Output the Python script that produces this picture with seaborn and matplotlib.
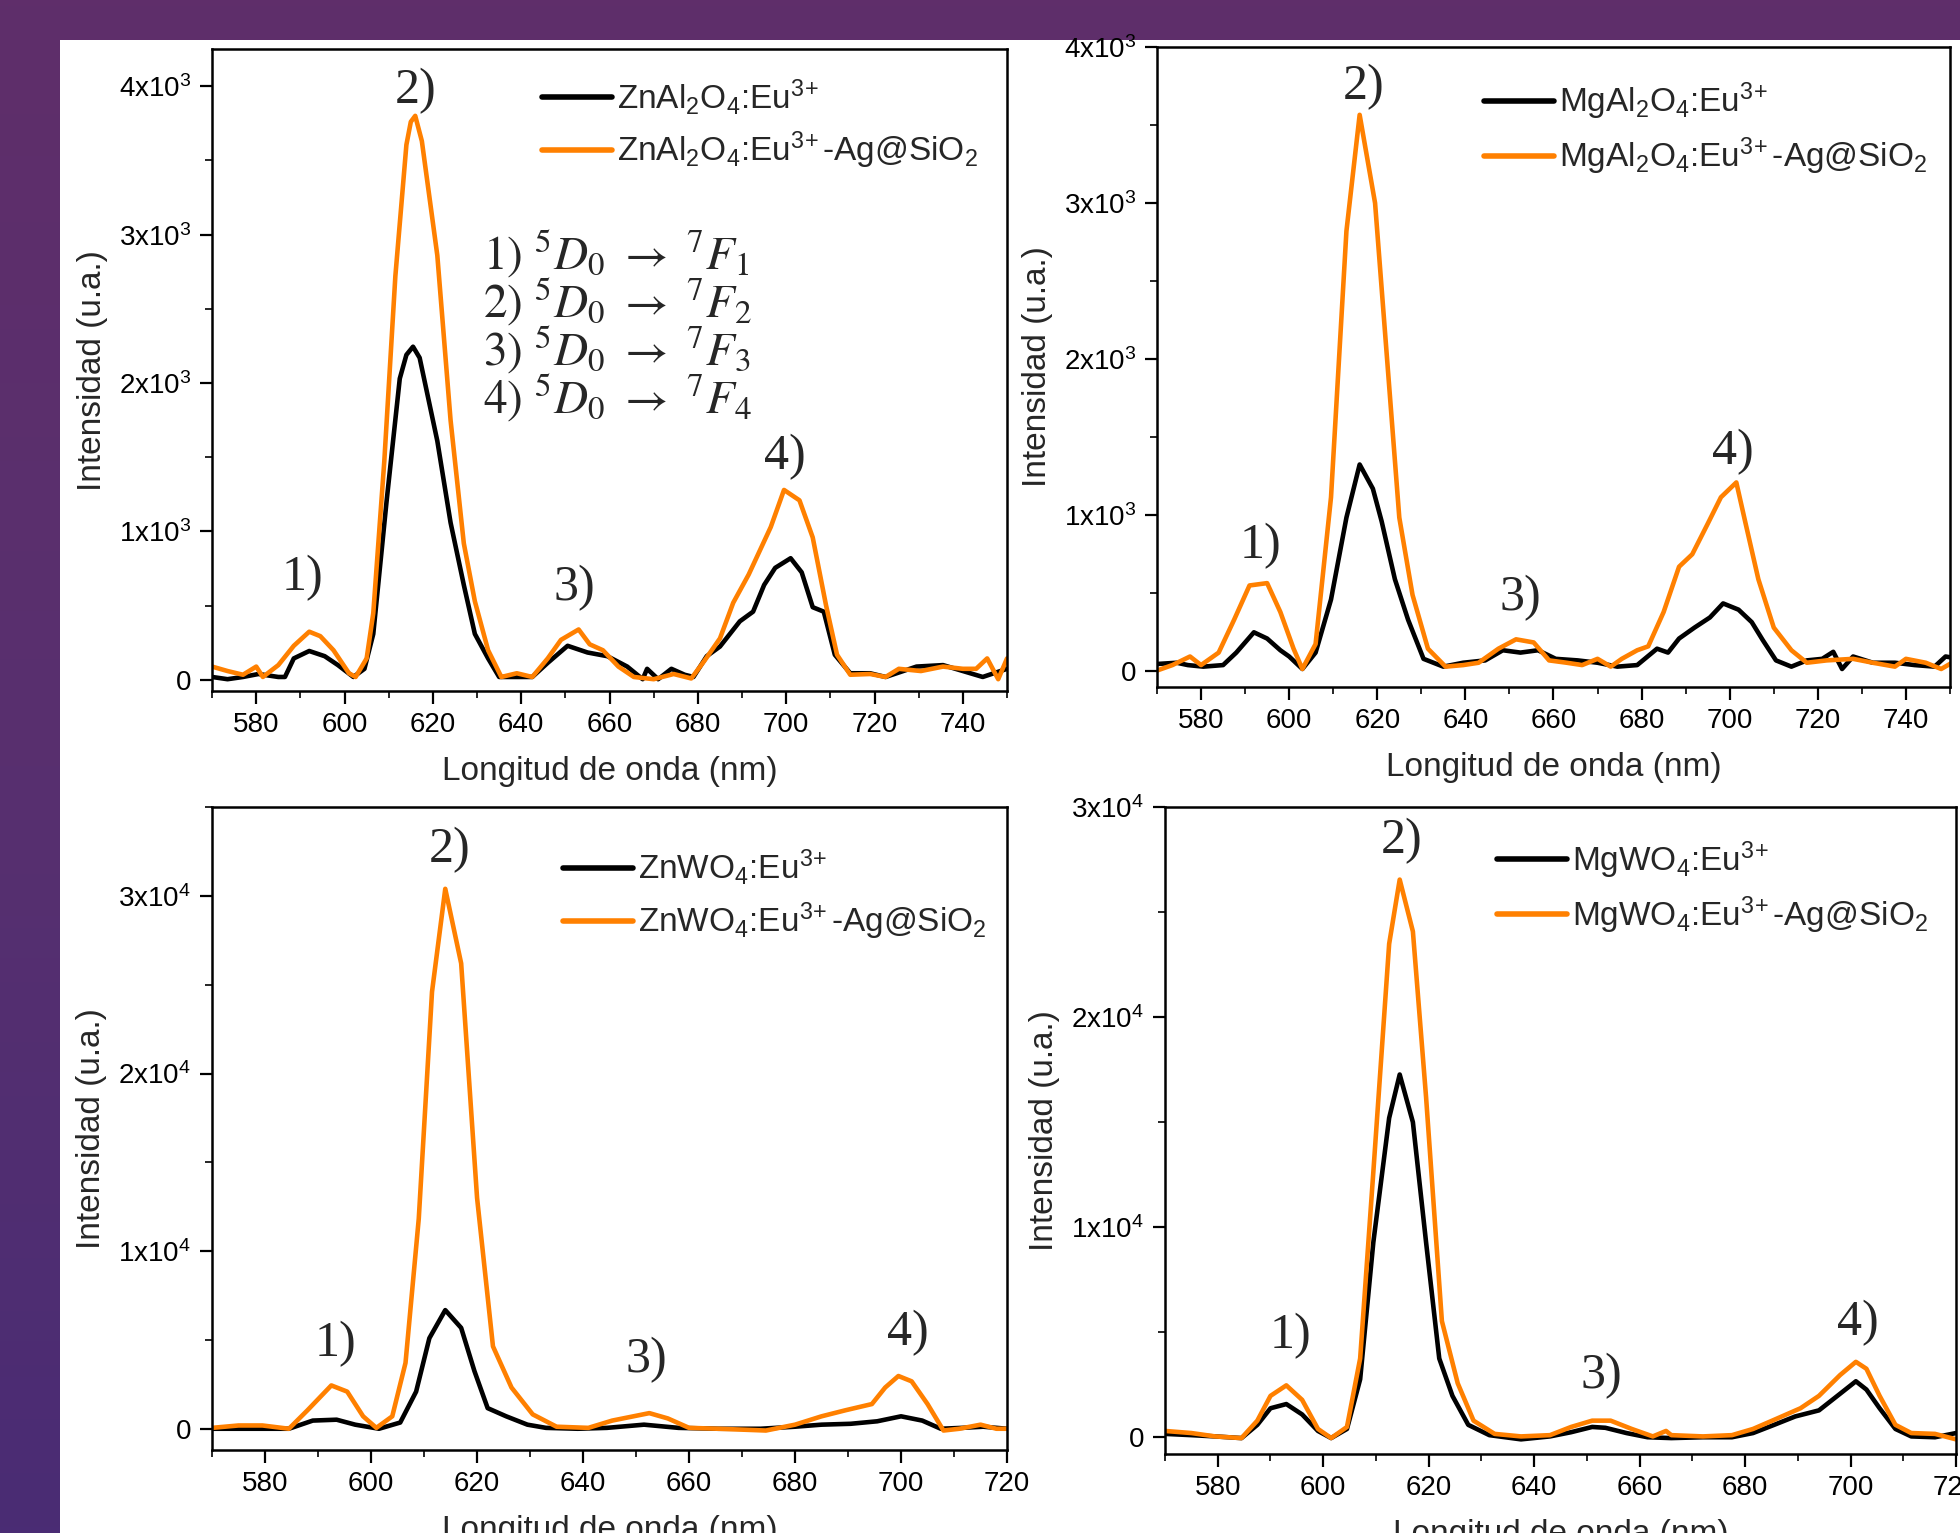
import matplotlib
matplotlib.use("Agg")
import matplotlib.pyplot as plt
import matplotlib.ticker as mticker
from matplotlib.colors import LinearSegmentedColormap
from matplotlib.patches import Rectangle
import numpy as np
import seaborn as sns

# ---- data (wavelength nm, intensity u.a.) ----
znal_wl = [570, 573.5, 577, 580.5, 585, 586.5, 588.5, 592, 595.5, 598.5, 602, 604.5, 606.5, 609.5,
           612.5, 614, 615.5, 617, 618, 621, 624, 627, 629.5, 632.5, 635, 639, 642.5, 646, 650.5,
           655, 659.5, 664, 667.5, 668.5, 671, 674, 677, 679, 682, 685, 689.5, 692.5, 695, 697.5,
           701, 703.5, 706, 708.5, 711, 714.5, 719, 722.5, 729.5, 735.5, 740, 744.5, 750]
znal_eu = [20, 5, 20, 40, 20, 20, 145, 195, 160, 100, 20, 75, 310, 1200,
           2030, 2190, 2245, 2170, 2030, 1610, 1060, 640, 310, 145, 20, 20, 20, 115, 230,
           185, 160, 90, 5, 75, 5, 75, 35, 20, 160, 225, 395, 460, 640, 755,
           820, 725, 490, 460, 170, 45, 45, 20, 90, 100, 60, 20, 75]
znal_ag_wl = [570, 573.5, 577, 580, 581.5, 585, 588.5, 592, 594.5, 597.5, 601, 602.5, 605, 606.5,
              609, 611.5, 614, 615, 616, 617.5, 621, 624, 627, 629.5, 632.5, 635.5, 639, 642.5,
              646, 649, 653, 655.5, 658.5, 662, 665.5, 670, 674.5, 678.5, 681.5, 685, 688,
              691.5, 696.5, 699.5, 703, 706, 709, 711.5, 714.5, 719, 722.5, 725.5, 730.5,
              735.5, 740, 743, 745.5, 748, 750]
znal_eu_ag = [90, 60, 35, 90, 20, 100, 230, 325, 295, 200, 45, 20, 145, 450,
              1475, 2720, 3605, 3760, 3800, 3630, 2860, 1750, 920, 530, 200, 20, 45, 20,
              145, 270, 340, 240, 200, 90, 20, 5, 40, 10, 130, 280, 520,
              710, 1030, 1280, 1210, 960, 505, 170, 35, 40, 20, 75, 60,
              90, 75, 75, 145, 5, 145]

mgal_wl = [570, 574.5, 577, 580.5, 585, 588, 592, 595, 598, 600, 603, 606, 609.5, 613, 616,
           619, 621, 624, 627, 630.5, 635, 639.5, 644.5, 648.5, 652.5, 656.5, 660.5, 665.5,
           670, 674.5, 679, 683.5, 686, 688.5, 692, 695.5, 698.5, 702, 705, 707.5, 710.5,
           714, 717.5, 721, 723.5, 725.5, 728, 732.5, 737.5, 742, 746.5, 749, 752]
mgal_eu = [47, 55, 40, 30, 40, 120, 250, 210, 135, 95, 15, 120, 460, 985, 1325,
           1170, 960, 590, 330, 80, 30, 55, 70, 135, 120, 135, 80, 70,
           55, 30, 40, 145, 120, 210, 280, 345, 435, 395, 315, 200, 70,
           30, 70, 80, 125, 15, 95, 55, 55, 40, 30, 95, 80]
mgal_ag_wl = [570, 573.5, 577.5, 580, 584, 587.5, 591, 595, 598, 601, 603, 606, 609.5, 613,
              616, 619.5, 622.5, 625, 628, 631.5, 635.5, 639.5, 643, 647.5, 651.5, 655.5, 659,
              663, 666.5, 670, 673, 675.5, 679, 681.5, 685, 688.5, 691.5, 695, 698, 701.5,
              703.5, 706.5, 710, 714, 717.5, 722, 728, 732.5, 737.5, 740, 744.5, 748, 752]
mgal_eu_ag = [5, 40, 95, 40, 120, 330, 550, 565, 380, 145, 15, 175, 1115, 2820,
              3565, 3000, 1900, 985, 490, 145, 30, 40, 55, 145, 205, 185, 70,
              55, 40, 80, 30, 80, 135, 160, 380, 670, 750, 945, 1115, 1210,
              960, 590, 280, 135, 55, 70, 80, 55, 30, 80, 55, 15, 80]

znw_wl = [570, 579.5, 584.5, 589, 593.5, 597, 601.5, 605.5, 608.5, 611, 614, 617, 619.5, 622,
          625.5, 629.5, 633, 639, 644.5, 651.5, 658, 665.5, 673.5, 680, 685, 690.5, 695.5,
          700, 704, 707.5, 711.5, 715.5, 720]
znw_eu = [0, 0, 0, 460, 510, 230, 0, 350, 2090, 5100, 6680, 5680, 3250, 1160,
          700, 230, 50, 0, 50, 230, 50, 0, 0, 115, 230, 280, 420,
          700, 460, 0, 50, 115, 0]
znw_ag_wl = [570, 575, 579.5, 584.5, 588, 592.5, 595.5, 598.5, 601, 604, 606.5, 609, 611.5,
             614, 617, 620, 623, 626.5, 630.5, 635, 641, 645.5, 649.5, 652.5, 656, 660, 665.5,
             674.5, 680, 685, 689.5, 694.5, 697, 699.5, 702, 705, 708, 711, 715, 718, 720]
znw_eu_ag = [50, 185, 185, 0, 1040, 2440, 2090, 700, 50, 700, 3710, 11830, 24600,
             30400, 26200, 13000, 4640, 2320, 810, 115, 50, 460, 700, 880, 580, 50, 0,
             -100, 230, 700, 1040, 1390, 2320, 2970, 2670, 1390, -100, 0, 230, 0, 0]

mgw_wl = [570, 575, 579.5, 584.5, 587.5, 590, 593, 596, 599, 601.5, 604.5, 607, 609.5, 612.5,
          614.5, 617, 619.5, 622, 624.5, 627.5, 631.5, 637.5, 643, 647, 651, 653.5, 657.5,
          661.5, 666, 672, 677.5, 681.5, 685.5, 689.5, 694, 698, 701, 703, 705.5, 708.5,
          711.5, 716, 720]
mgw_eu = [160, 100, 40, -40, 590, 1380, 1580, 1085, 300, -40, 395, 2760, 9280, 15200,
          17270, 15000, 9280, 3750, 1970, 590, 100, -100, 40, 240, 490, 450, 200,
          0, -40, 0, 0, 200, 590, 990, 1280, 2070, 2665, 2270, 1380, 395,
          40, 0, 200]
mgw_ag_wl = [570, 575, 579.5, 584.5, 587.5, 590, 593, 596, 599, 601.5, 604.5, 607, 609.5,
             612.5, 614.5, 617, 619.5, 622.5, 625.5, 628.5, 632.5, 637.5, 643, 647, 651,
             654.5, 658.5, 662.5, 665, 666, 672, 677.5, 681.5, 685.5, 690.5, 694, 698, 701,
             703, 705.5, 708.5, 711.5, 716, 720]
mgw_eu_ag = [300, 200, 40, -40, 790, 1970, 2470, 1780, 395, -40, 490, 3750, 12630,
             23490, 26550, 24080, 16190, 5530, 2570, 790, 160, 40, 100, 490, 790,
             790, 395, 40, 300, 100, 40, 100, 395, 830, 1380, 1970, 2960, 3590,
             3260, 1970, 590, 200, 160, -100]

hosts = ["ZnAl$_2$O$_4$", "MgAl$_2$O$_4$", "ZnWO$_4$", "MgWO$_4$"]
panels = [
    (znal_wl, znal_eu, znal_ag_wl, znal_eu_ag),
    (mgal_wl, mgal_eu, mgal_ag_wl, mgal_eu_ag),
    (znw_wl, znw_eu, znw_ag_wl, znw_eu_ag),
    (mgw_wl, mgw_eu, mgw_ag_wl, mgw_eu_ag),
]

# peak label positions (nm, intensity) for 1) 2) 3) 4)
peak_labels = ["1)", "2)", "3)", "4)"]
peak_pos = [
    [(590.4, 690), (616.2, 3966), (652, 622), (699.7, 1504)],
    [(593.6, 802), (616.9, 3743), (652.4, 473), (700.7, 1403)],
    [(593.2, 4790), (614.9, 32600), (652, 3870), (701.2, 5420)],
    [(593.7, 4830), (614.8, 28380), (652.8, 2920), (701.4, 5430)],
]
transitions = [r"$1)\ {}^5D_0\ \rightarrow\ {}^7F_1$", r"$2)\ {}^5D_0\ \rightarrow\ {}^7F_2$",
               r"$3)\ {}^5D_0\ \rightarrow\ {}^7F_3$", r"$4)\ {}^5D_0\ \rightarrow\ {}^7F_4$"]

# ---- layout (figure fractions) ----
axes_rect = [
    (0.1082, 0.5492, 0.4056, 0.4188),
    (0.5903, 0.5519, 0.4046, 0.4175),
    (0.1082, 0.0541, 0.4056, 0.4194),
    (0.5944, 0.0515, 0.4036, 0.4220),
]
xlims = [(570, 750), (570, 750), (570, 720), (570, 720)]
ylims = [(-75, 4250), (-100, 4000), (-1200, 35000), (-800, 30000)]
ymajor = [1000, 1000, 10000, 10000]
legend_anchor = [(0.394, 0.983), (0.391, 0.973), (0.421, 0.963), (0.399, 0.976)]

sns.set_style("ticks")
plt.rcParams['font.family'] = ['Liberation Sans', 'DejaVu Sans']
plt.rcParams['mathtext.fontset'] = 'custom'
plt.rcParams['mathtext.rm'] = 'Liberation Sans'
plt.rcParams['mathtext.it'] = 'Liberation Sans:italic'
plt.rcParams['mathtext.bf'] = 'Liberation Sans:bold'

ORANGE = "#ff8000"

fig = plt.figure(figsize=(19.6, 15.33), dpi=100)

# purple slide background with a soft vertical gradient
bg = fig.add_axes([0, 0, 1, 1], zorder=-10)
bg_cmap = LinearSegmentedColormap.from_list("slide", ["#5f2e6a", "#58306f", "#4a2c74"])
bg.imshow(np.linspace(0, 1, 256)[:, None], aspect="auto", cmap=bg_cmap, extent=[0, 1, 0, 1])
bg.add_patch(Rectangle((60 / 1960, 0), 1, (1533 - 40) / 1533, facecolor="white",
                       edgecolor="none"))
bg.set_xlim(0, 1)
bg.set_ylim(0, 1)
bg.axis("off")


def sci_fmt(v, pos):
    if abs(v) < 1e-9:
        return "0"
    e = 3 if abs(v) < 9999 else 4
    return f"{int(round(v / 10 ** e))}x10$^{e}$"


for i, (wl1, y1, wl2, y2) in enumerate(panels):
    ax = fig.add_axes(axes_rect[i])
    sns.lineplot(x=wl1, y=y1, color="black", lw=3.3, ax=ax, sort=False, estimator=None,
                 label=hosts[i] + r":Eu$^{3\!+}$")
    sns.lineplot(x=wl2, y=y2, color=ORANGE, lw=3.3, ax=ax, sort=False, estimator=None,
                 label=hosts[i] + r":Eu$^{3\!+}$-Ag@SiO$_2$")
    ax.set_xlim(*xlims[i])
    ax.set_ylim(*ylims[i])
    ax.xaxis.set_major_locator(mticker.MultipleLocator(20))
    ax.xaxis.set_minor_locator(mticker.MultipleLocator(10))
    ax.yaxis.set_major_locator(mticker.MultipleLocator(ymajor[i]))
    ax.yaxis.set_minor_locator(mticker.MultipleLocator(ymajor[i] / 2))
    ax.yaxis.set_major_formatter(mticker.FuncFormatter(sci_fmt))
    ax.tick_params(which="major", direction="out", length=9, width=1.6, labelsize=20,
                   colors="black", pad=6)
    ax.tick_params(which="minor", direction="out", length=5, width=1.4)
    for sp in ax.spines.values():
        sp.set_linewidth(1.8)
        sp.set_color("black")
    ax.set_xlabel("Longitud de onda (nm)", fontsize=24, labelpad=13)
    ax.set_ylabel("Intensidad (u.a.)", fontsize=24, labelpad=8)

    leg = ax.legend(loc="upper left", bbox_to_anchor=legend_anchor[i], frameon=False,
                    fontsize=24, handlelength=2.1, handletextpad=0.15, borderpad=0,
                    labelspacing=0.4)
    for h in leg.get_lines():
        h.set_linewidth(4)

    for lab, (px, py) in zip(peak_labels, peak_pos[i]):
        ax.text(px, py, lab, ha="center", va="center", fontsize=36,
                family="Liberation Serif")

    if i == 0:
        for k, t in enumerate(transitions):
            ax.text(0.341, 0.681 - k * 0.0745, t, transform=ax.transAxes, ha="left",
                    va="center", fontsize=34, math_fontfamily="stix")

fig.savefig("out.png", dpi=100)
